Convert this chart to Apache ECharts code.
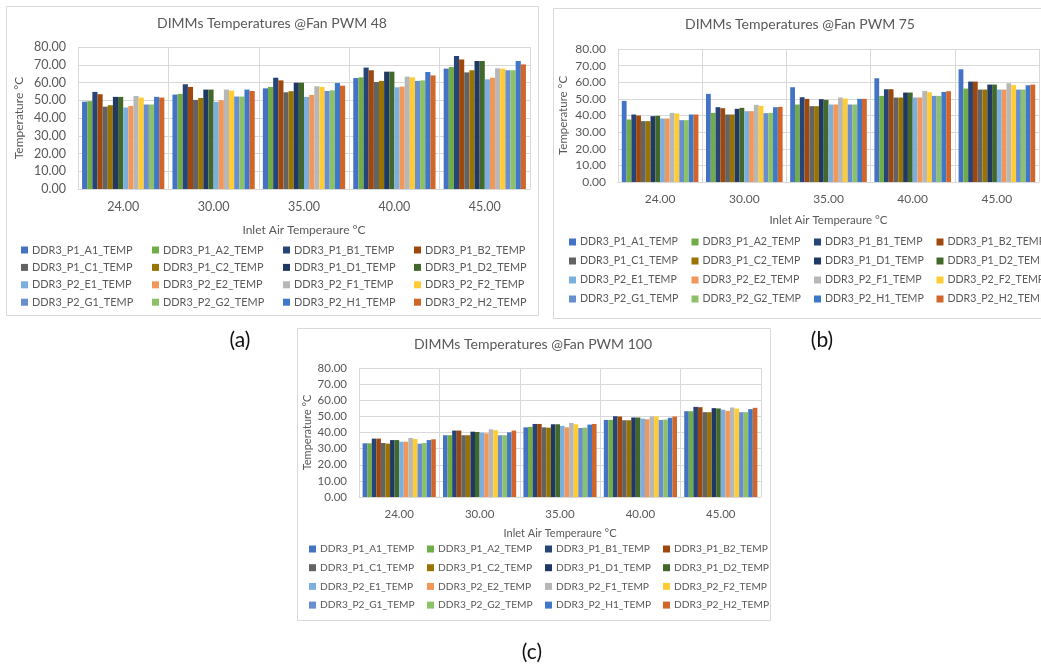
<!DOCTYPE html>
<html>
<head>
<meta charset="utf-8">
<script src="https://cdn.jsdelivr.net/npm/echarts@6/dist/echarts.min.js"></script>
<style>
  html, body { margin: 0; padding: 0; background: #ffffff; }
  #chart { width: 1041px; height: 669px; }
</style>
</head>
<body>
<div id="chart"></div>
<script>
// Inlet air temperature categories (°C)
const categories = ['24.00', '30.00', '35.00', '40.00', '45.00'];

// DIMM sensor names, one bar series each
const sensors = [
  'DDR3_P1_A1_TEMP', 'DDR3_P1_A2_TEMP', 'DDR3_P1_B1_TEMP', 'DDR3_P1_B2_TEMP',
  'DDR3_P1_C1_TEMP', 'DDR3_P1_C2_TEMP', 'DDR3_P1_D1_TEMP', 'DDR3_P1_D2_TEMP',
  'DDR3_P2_E1_TEMP', 'DDR3_P2_E2_TEMP', 'DDR3_P2_F1_TEMP', 'DDR3_P2_F2_TEMP',
  'DDR3_P2_G1_TEMP', 'DDR3_P2_G2_TEMP', 'DDR3_P2_H1_TEMP', 'DDR3_P2_H2_TEMP'
];

const sensorColors = [
  '#4472C4', '#70AD47', '#264478', '#9E480E',
  '#636363', '#997300', '#203864', '#43682B',
  '#7CAFDD', '#F1975A', '#B7B7B7', '#FFCD33',
  '#698ED0', '#8CC168', '#3F78C8', '#D2652A'
];

// Temperature tick labels on the value axis
const yTicks = [0, 10, 20, 30, 40, 50, 60, 70, 80];

// DIMM temperatures (°C), one row per sensor, one value per inlet temperature
const pwm48 = [
  [49.2, 53.2, 56.7, 62.5, 67.8],
  [49.5, 53.6, 57.5, 62.9, 68.7],
  [54.7, 59.0, 62.7, 68.4, 74.9],
  [53.4, 57.5, 61.2, 66.9, 73.0],
  [46.4, 50.2, 54.5, 60.3, 65.7],
  [47.2, 51.3, 55.1, 60.9, 66.9],
  [51.9, 56.0, 59.9, 66.1, 72.1],
  [51.9, 56.0, 59.9, 66.1, 72.1],
  [45.9, 49.1, 51.9, 57.3, 61.8],
  [46.8, 50.0, 53.0, 57.7, 62.7],
  [52.4, 56.0, 57.9, 63.3, 68.0],
  [51.5, 55.4, 57.5, 62.9, 67.8],
  [47.6, 52.1, 55.2, 60.9, 66.9],
  [47.6, 52.1, 55.6, 61.2, 66.9],
  [51.9, 56.0, 59.7, 65.9, 72.1],
  [51.5, 55.2, 58.2, 64.0, 70.2]
];

const pwm75 = [
  [48.8, 53.0, 57.0, 62.4, 67.8],
  [37.6, 41.6, 46.6, 51.8, 56.2],
  [40.6, 45.0, 51.0, 55.8, 60.4],
  [40.0, 44.4, 50.0, 55.8, 60.4],
  [36.6, 40.6, 45.6, 50.8, 55.6],
  [36.6, 40.6, 45.6, 50.8, 55.6],
  [39.6, 44.0, 49.8, 53.8, 58.6],
  [39.8, 44.6, 49.4, 53.8, 58.6],
  [38.2, 42.6, 46.6, 50.8, 55.6],
  [38.2, 42.6, 46.6, 50.8, 55.6],
  [41.6, 46.4, 50.8, 54.8, 59.4],
  [41.2, 45.8, 50.2, 54.0, 58.4],
  [37.2, 41.4, 46.6, 51.8, 55.6],
  [37.2, 41.6, 46.6, 51.8, 55.6],
  [40.6, 45.0, 50.0, 54.2, 58.2],
  [40.6, 45.2, 50.0, 54.6, 58.6]
];

const pwm100 = [
  [33.3, 38.3, 43.2, 47.8, 53.2],
  [33.3, 38.3, 43.5, 47.8, 53.2],
  [36.2, 41.2, 45.3, 50.1, 55.9],
  [36.2, 41.2, 45.3, 49.9, 55.7],
  [33.5, 38.3, 43.2, 47.6, 52.6],
  [33.1, 38.3, 43.0, 47.6, 52.6],
  [35.3, 40.5, 45.1, 49.3, 55.1],
  [35.3, 40.3, 45.1, 49.3, 54.9],
  [34.3, 39.9, 44.1, 48.6, 54.1],
  [34.3, 39.5, 43.2, 48.2, 53.4],
  [36.6, 42.0, 45.9, 49.9, 55.5],
  [36.0, 41.4, 45.1, 49.9, 54.9],
  [33.1, 38.3, 42.8, 47.8, 52.6],
  [33.5, 38.3, 43.0, 48.0, 52.6],
  [35.3, 40.1, 44.9, 49.1, 54.5],
  [35.8, 41.2, 45.3, 49.9, 55.3]
];

const panelTitles = ['DIMMs Temperatures @Fan PWM 48', 'DIMMs Temperatures @Fan PWM 75', 'DIMMs Temperatures @Fan PWM 100'];
const panelTags = ['(a)', '(b)', '(c)'];
const panelData = [pwm48, pwm75, pwm100];

// Panel geometry and type sizes
const layout = [
  { box: [6, 6, 532, 309], grid: [78, 47, 452, 142], titleX: 272, titleY: 23,
    legendX: 21, colPitch: 131, rowTop: 250, rowPitch: 17.4, tag: [240, 340],
    tick: 12.5, legendFont: 10.9, nameGap: [35, 53] },
  { box: [553, 8, 500, 310], grid: [618, 49, 421, 133], titleX: 800, titleY: 24,
    legendX: 569, colPitch: 122.5, rowTop: 242, rowPitch: 19, tag: [822, 340],
    tick: 12, legendFont: 10.6, nameGap: [32, 49] },
  { box: [297, 328, 473, 292], grid: [359, 368, 402, 129], titleX: 533, titleY: 344,
    legendX: 309, colPitch: 118, rowTop: 549, rowPitch: 18.7, tag: [532, 652],
    tick: 11.5, legendFont: 10.2, nameGap: [31, 46] }
];

const FONT = 'Lato, "Open Sans", sans-serif';
const TEXT = '#595959';
const GRID = '#D9D9D9';

const grids = [], xAxes = [], yAxes = [], series = [], legends = [], graphics = [];

layout.forEach((p, i) => {
  grids.push({ left: p.grid[0], top: p.grid[1], width: p.grid[2], height: p.grid[3] });

  xAxes.push({
    type: 'category', gridIndex: i, data: categories,
    axisTick: { show: false },
    axisLine: { lineStyle: { color: GRID } },
    splitLine: { show: true, lineStyle: { color: GRID } },
    axisLabel: { color: TEXT, fontSize: p.tick, fontFamily: FONT, margin: 11 },
    name: 'Inlet Air Temperaure °C', nameLocation: 'middle', nameGap: p.nameGap[0],
    nameTextStyle: { color: TEXT, fontSize: p.tick - 0.5, fontFamily: FONT }
  });

  yAxes.push({
    type: 'value', gridIndex: i, min: yTicks[0], max: yTicks[yTicks.length - 1], interval: 10,
    axisLine: { show: false }, axisTick: { show: false },
    splitLine: { lineStyle: { color: GRID } },
    axisLabel: { color: TEXT, fontSize: p.tick, fontFamily: FONT, margin: 12,
                 formatter: v => v.toFixed(2) },
    name: 'Temperature °C', nameLocation: 'middle', nameRotate: 90, nameGap: p.nameGap[1],
    nameTextStyle: { color: TEXT, fontSize: p.tick - 0.5, fontFamily: FONT }
  });

  sensors.forEach((name, j) => {
    series.push({
      type: 'bar', name: name, xAxisIndex: i, yAxisIndex: i,
      data: panelData[i][j],
      itemStyle: { color: sensorColors[j] },
      barGap: '0%', barCategoryGap: '9%',
      emphasis: { disabled: true }
    });
  });

  // Legend laid out as four columns of four entries
  for (let c = 0; c < 4; c++) {
    legends.push({
      orient: 'vertical',
      left: p.legendX + c * p.colPitch,
      top: p.rowTop - 6,
      data: [sensors[c], sensors[c + 4], sensors[c + 8], sensors[c + 12]],
      icon: 'rect', itemWidth: 7, itemHeight: 7,
      itemGap: p.rowPitch - 12, padding: 0,
      selectedMode: false,
      textStyle: { color: TEXT, fontSize: p.legendFont, fontFamily: FONT, lineHeight: 12, padding: [0, 0, 0, -1] }
    });
  }

  graphics.push({
    type: 'rect', left: p.box[0], top: p.box[1], silent: true,
    shape: { width: p.box[2], height: p.box[3] },
    style: { fill: '#ffffff', stroke: GRID, lineWidth: 1 }, z: -10
  });
  graphics.push({
    type: 'text', x: p.titleX, y: p.titleY, silent: true,
    style: { text: panelTitles[i], fill: TEXT, font: '14px ' + FONT,
             textAlign: 'center', textVerticalAlign: 'middle' }
  });
  graphics.push({
    type: 'text', x: p.tag[0], y: p.tag[1], silent: true,
    style: { text: panelTags[i], fill: '#111111', font: '21px ' + FONT,
             textAlign: 'center', textVerticalAlign: 'middle' }
  });
});

const chart = echarts.init(document.getElementById('chart'), null, { renderer: 'canvas' });
chart.setOption({
  animation: false,
  backgroundColor: '#ffffff',
  textStyle: { fontFamily: FONT },
  grid: grids,
  xAxis: xAxes,
  yAxis: yAxes,
  legend: legends,
  series: series,
  graphic: { elements: graphics }
});
</script>
</body>
</html>
